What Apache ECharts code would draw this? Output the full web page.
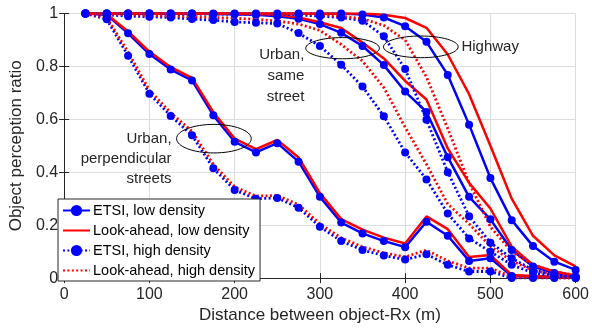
<!DOCTYPE html>
<html>
<head>
<meta charset="utf-8">
<script src="https://cdn.jsdelivr.net/npm/echarts@6/dist/echarts.min.js"></script>
<style>
html, body { margin: 0; padding: 0; background: #fff; }
#chart { width: 592px; height: 329px; }
</style>
</head>
<body>
<div id="chart"></div>
<script>
// distance between object and receiver (m)
const distances = [25, 50, 75, 100, 125, 150, 175, 200, 225, 250, 275, 300,
    325, 350, 375, 400, 425, 450, 475, 500, 525, 550, 575, 600];

const legendNames = ['ETSI, low density', 'Look-ahead, low density',
    'ETSI, high density', 'Look-ahead, high density'];

// Urban, perpendicular streets
const perpEtsiLow = [1.0, 0.995, 0.925, 0.847, 0.788, 0.747, 0.615, 0.515, 0.475, 0.51, 0.44, 0.307,
    0.21, 0.169, 0.14, 0.117, 0.213, 0.16, 0.065, 0.075, 0.008, 0.005, 0.003, 0.0];
const perpLookLow = [1.0, 0.997, 0.932, 0.856, 0.797, 0.757, 0.627, 0.527, 0.487, 0.522, 0.456, 0.321,
    0.223, 0.183, 0.153, 0.131, 0.233, 0.185, 0.08, 0.087, 0.012, 0.008, 0.005, 0.002];
const perpEtsiHigh = [1.0, 0.978, 0.84, 0.697, 0.613, 0.54, 0.415, 0.333, 0.30, 0.303, 0.266, 0.194,
    0.14, 0.106, 0.085, 0.07, 0.09, 0.05, 0.025, 0.025, 0.0, 0.0, 0.0, 0.0];
const perpLookHigh = [1.0, 0.985, 0.855, 0.71, 0.625, 0.555, 0.43, 0.345, 0.31, 0.312, 0.278, 0.205,
    0.152, 0.118, 0.095, 0.08, 0.106, 0.065, 0.038, 0.038, 0.005, 0.002, 0.0, 0.0];

// Urban, same street
const sameEtsiLow = [1.0, 1.0, 1.0, 1.0, 1.0, 1.0, 0.998, 0.997, 0.995, 0.99, 0.98, 0.96,
    0.927, 0.877, 0.805, 0.705, 0.628, 0.457, 0.307, 0.222, 0.106, 0.044, 0.019, 0.006];
const sameLookLow = [1.0, 1.0, 1.0, 1.0, 1.0, 1.0, 1.0, 0.999, 0.998, 0.995, 0.985, 0.967,
    0.945, 0.89, 0.83, 0.745, 0.675, 0.49, 0.36, 0.263, 0.119, 0.05, 0.025, 0.01];
const sameEtsiHigh = [1.0, 0.995, 0.99, 0.988, 0.985, 0.979, 0.975, 0.968, 0.965, 0.962, 0.926, 0.877,
    0.806, 0.724, 0.612, 0.475, 0.373, 0.244, 0.15, 0.10, 0.05, 0.02, 0.008, 0.002];
const sameLookHigh = [1.0, 0.998, 0.995, 0.993, 0.99, 0.988, 0.985, 0.982, 0.978, 0.972, 0.96, 0.936,
    0.883, 0.82, 0.72, 0.57, 0.43, 0.28, 0.205, 0.12, 0.065, 0.03, 0.012, 0.004];

// Highway
const hwyEtsiLow = [1.0, 1.0, 1.0, 1.0, 1.0, 1.0, 1.0, 1.0, 1.0, 1.0, 1.0, 1.0,
    1.0, 0.996, 0.985, 0.952, 0.893, 0.768, 0.58, 0.378, 0.219, 0.121, 0.062, 0.031];
const hwyLookLow = [1.0, 1.0, 1.0, 1.0, 1.0, 1.0, 1.0, 1.0, 1.0, 1.0, 1.0, 1.0,
    1.0, 1.0, 0.995, 0.983, 0.946, 0.845, 0.695, 0.50, 0.30, 0.16, 0.086, 0.044];
const hwyEtsiHigh = [1.0, 1.0, 1.0, 1.0, 0.998, 0.998, 0.998, 0.998, 0.998, 0.997, 0.995, 0.99,
    0.985, 0.973, 0.914, 0.79, 0.598, 0.40, 0.234, 0.134, 0.075, 0.031, 0.012, 0.005];
const hwyLookHigh = [1.0, 1.0, 1.0, 1.0, 1.0, 1.0, 1.0, 1.0, 1.0, 1.0, 1.0, 0.997,
    0.99, 0.98, 0.955, 0.90, 0.76, 0.565, 0.36, 0.194, 0.10, 0.05, 0.025, 0.01];

// annotations: ellipse centre / radii in data units, labels anchored in data units
const ellipses = [
    { x: 175.7, y: 0.527, rx: 43.8, ry: 0.054 },
    { x: 326.6, y: 0.869, rx: 43.2, ry: 0.04 },
    { x: 418.4, y: 0.874, rx: 43.8, ry: 0.041 }
];
const labels = [
    { text: 'Urban,\nperpendicular\nstreets', x: 126, y: 0.45, align: 'right', lh: 20 },
    { text: 'Urban,\nsame\nstreet', x: 281.7, y: 0.765, align: 'right', lh: 21 },
    { text: 'Highway', x: 466, y: 0.874, align: 'left', lh: 18 }
];

const FONT = 'Liberation Sans, Arial, sans-serif';
const TXT = '#262626';

function pairs(vals) {
    return distances.map((d, i) => [d, vals[i]]);
}

function makeSeries(nameIdx, vals, withMarker, dotted) {
    const color = withMarker ? '#0000ff' : '#ff0000';
    return {
        type: 'line',
        name: legendNames[nameIdx],
        data: pairs(vals),
        symbol: withMarker ? 'circle' : 'none',
        symbolSize: 8,
        showAllSymbol: true,
        itemStyle: { color: color },
        lineStyle: {
            color: color,
            width: dotted ? 2.8 : 2.5,
            type: dotted ? [2, 2.4] : 'solid'
        },
        emphasis: { disabled: true }
    };
}

const groups = [
    [perpEtsiLow, perpLookLow, perpEtsiHigh, perpLookHigh],
    [sameEtsiLow, sameLookLow, sameEtsiHigh, sameLookHigh],
    [hwyEtsiLow, hwyLookLow, hwyEtsiHigh, hwyLookHigh]
];

let series = [];
groups.forEach(g => {
    series.push(makeSeries(0, g[0], true, false));
    series.push(makeSeries(1, g[1], false, false));
    series.push(makeSeries(2, g[2], true, true));
    series.push(makeSeries(3, g[3], false, true));
});

// red (look-ahead) entries have no marker in the legend
const legendData = legendNames.map((n, i) =>
    i % 2 === 1 ? { name: n, itemStyle: { opacity: 0 } } : { name: n });

let myChart = echarts.init(document.getElementById('chart'));

const axisLineStyle = { lineStyle: { color: TXT, width: 1 } };

myChart.setOption({
    animation: false,
    textStyle: { fontFamily: FONT },
    grid: { left: 57.5, right: 13.7, top: 13.5, bottom: 49, containLabel: false },
    legend: {
        data: legendData,
        orient: 'vertical',
        left: 58,
        top: 199,
        itemWidth: 27,
        itemHeight: 14,
        itemGap: 5,
        padding: [4, 5, 3, 4],
        backgroundColor: '#fff',
        borderColor: TXT,
        borderWidth: 1,
        selectedMode: false,
        textStyle: { fontSize: 14.5, color: '#000', fontFamily: FONT, padding: [0, 0, 0, -2] }
    },
    xAxis: [
        {
            type: 'value', min: 0, max: 600, interval: 100,
            name: 'Distance between object-Rx (m)',
            nameLocation: 'middle', nameGap: 21,
            nameTextStyle: { fontSize: 17, color: TXT, fontFamily: FONT },
            axisLine: axisLineStyle,
            axisTick: { show: true, inside: true, length: 5, lineStyle: { color: TXT } },
            axisLabel: { fontSize: 16, color: TXT, margin: 8, fontFamily: FONT },
            splitLine: { show: true, lineStyle: { color: '#dedede', width: 1 } }
        },
        {
            type: 'value', min: 0, max: 600, interval: 100, position: 'top',
            axisLine: axisLineStyle,
            axisTick: { show: true, inside: true, length: 5, lineStyle: { color: TXT } },
            axisLabel: { show: false },
            splitLine: { show: false }
        }
    ],
    yAxis: [
        {
            type: 'value', min: 0, max: 1, interval: 0.2,
            name: 'Object perception ratio',
            nameLocation: 'middle', nameGap: 32,
            nameTextStyle: { fontSize: 17, color: TXT, fontFamily: FONT },
            axisLine: { show: true, lineStyle: { color: TXT, width: 1 } },
            axisTick: { show: true, inside: true, length: 5, lineStyle: { color: TXT } },
            axisLabel: { fontSize: 16, color: TXT, margin: 6, fontFamily: FONT },
            splitLine: { show: true, lineStyle: { color: '#dedede', width: 1 } }
        },
        {
            type: 'value', min: 0, max: 1, interval: 0.2, position: 'right',
            axisLine: { show: true, lineStyle: { color: TXT, width: 1 } },
            axisTick: { show: true, inside: true, length: 5, lineStyle: { color: TXT } },
            axisLabel: { show: false },
            splitLine: { show: false }
        }
    ],
    series: series
});

// annotations placed through the chart's own coordinate conversion
function px(x, y) {
    return myChart.convertToPixel({ gridIndex: 0 }, [x, y]);
}
let graphics = [];
ellipses.forEach(e => {
    const c = px(e.x, e.y);
    const r = px(e.x + e.rx, e.y + e.ry);
    graphics.push({
        type: 'ellipse',
        shape: { cx: c[0], cy: c[1], rx: r[0] - c[0], ry: c[1] - r[1] },
        style: { fill: null, stroke: '#000', lineWidth: 1 },
        z: 10
    });
});
labels.forEach(l => {
    const p = px(l.x, l.y);
    graphics.push({
        type: 'text',
        x: p[0], y: p[1],
        style: {
            text: l.text, align: l.align, verticalAlign: 'middle',
            fontSize: 15, fontFamily: FONT, fill: TXT, lineHeight: l.lh
        },
        z: 10
    });
});
myChart.setOption({ graphic: graphics });
</script>
</body>
</html>
